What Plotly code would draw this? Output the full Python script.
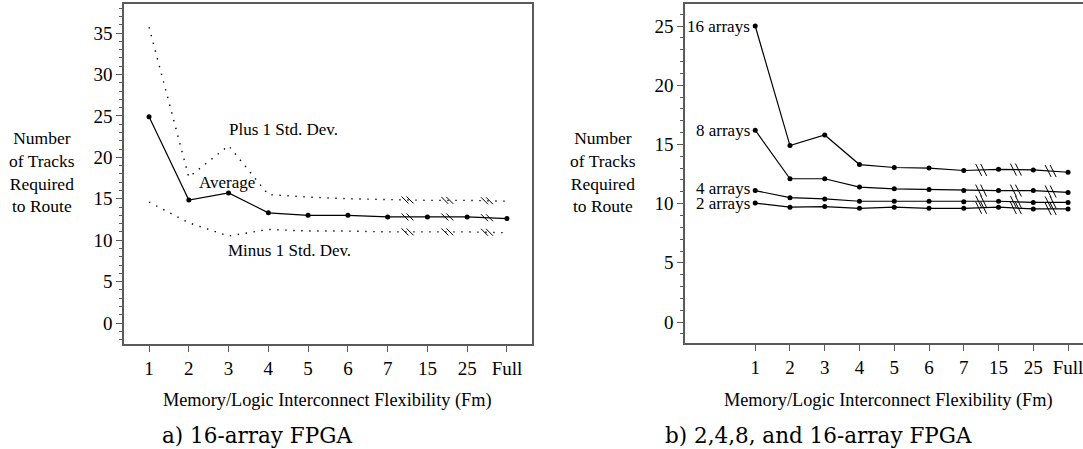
import plotly.graph_objects as go

# ---------------- data ----------------
x_labels = ["1", "2", "3", "4", "5", "6", "7", "15", "25", "Full"]
x_pos = list(range(1, len(x_labels) + 1))

# panel a) 16-array FPGA
avg_16 = [24.9, 14.85, 15.7, 13.3, 13.0, 13.0, 12.8, 12.8, 12.8, 12.6]
plus_sd = [35.7, 17.6, 21.4, 15.5, 15.2, 15.0, 14.9, 14.8, 14.8, 14.7]
minus_sd = [14.6, 12.1, 10.5, 11.3, 11.1, 11.1, 11.0, 11.0, 11.0, 10.9]

# panel b) 2,4,8,16-array FPGA
arr16 = [25.0, 14.9, 15.8, 13.3, 13.05, 13.0, 12.8, 12.9, 12.85, 12.65]
arr8 = [16.2, 12.1, 12.1, 11.4, 11.25, 11.2, 11.1, 11.1, 11.1, 10.95]
arr4 = [11.1, 10.5, 10.4, 10.2, 10.2, 10.2, 10.15, 10.2, 10.1, 10.1]
arr2 = [10.05, 9.7, 9.75, 9.6, 9.7, 9.6, 9.6, 9.7, 9.55, 9.55]
series_b = [("16 arrays", arr16), ("8 arrays", arr8), ("4 arrays", arr4), ("2 arrays", arr2)]

W, H = 1083, 449
SERIF = "Liberation Serif"
CAP = "DejaVu Serif"


def px(v):
    return v / W


def py(v):
    return 1 - v / H


fig = go.Figure()

# ----- panel a traces -----
fig.add_trace(go.Scatter(x=x_pos, y=plus_sd, mode="lines", xaxis="x", yaxis="y",
                         line=dict(color="black", width=1.4, dash="1.4px,6.6px"), showlegend=False))
fig.add_trace(go.Scatter(x=x_pos, y=minus_sd, mode="lines", xaxis="x", yaxis="y",
                         line=dict(color="black", width=1.4, dash="1.4px,6.6px"), showlegend=False))
fig.add_trace(go.Scatter(x=x_pos, y=avg_16, mode="lines+markers", xaxis="x", yaxis="y",
                         line=dict(color="black", width=1.2),
                         marker=dict(color="black", size=5), showlegend=False))

# ----- panel b traces -----
for name, ys in series_b:
    fig.add_trace(go.Scatter(x=x_pos, y=ys, mode="lines+markers", xaxis="x2", yaxis="y2",
                             line=dict(color="black", width=1.2),
                             marker=dict(color="black", size=5), showlegend=False))

shapes = []


def add_breaks(ys, xr, yr, w, h, gap):
    for i in (6, 7, 8):
        xm = (x_pos[i] + x_pos[i + 1]) / 2
        ym = (ys[i] + ys[i + 1]) / 2
        for off in (-gap / 2, gap / 2):
            shapes.append(dict(type="line", xref=xr, yref=yr,
                               xsizemode="pixel", ysizemode="pixel",
                               xanchor=xm, yanchor=ym,
                               x0=off - w / 2, y0=h / 2, x1=off + w / 2, y1=-h / 2,
                               line=dict(color="black", width=1)))


for ys in (plus_sd, avg_16, minus_sd):
    add_breaks(ys, "x", "y", 7, 7, 5)
for _, ys in series_b:
    add_breaks(ys, "x2", "y2", 6, 12, 5)

axis_common = dict(showline=True, linecolor="#5a5a5a", linewidth=1.6, ticks="outside",
                   tickcolor="#5a5a5a", tickwidth=1.2, showgrid=False, zeroline=False,
                   ticklabeloverflow="allow",
                   tickfont=dict(family=SERIF, size=19, color="black"))

fig.update_layout(
    width=W, height=H, margin=dict(l=0, r=0, t=0, b=0),
    paper_bgcolor="white", plot_bgcolor="white",
    xaxis=dict(domain=[px(124), px(532)], range=[0.37, 10.63], anchor="y", mirror=True,
               tickvals=x_pos, ticktext=x_labels, ticklen=6, **axis_common),
    yaxis=dict(domain=[py(344), py(4)], range=[-2.53, 38.5], anchor="x", mirror=True,
               tickvals=[0, 5, 10, 15, 20, 25, 30, 35], ticklen=6,
               minor=dict(dtick=1, ticklen=3, ticks="outside", tickcolor="#5a5a5a"),
               **axis_common),
    xaxis2=dict(domain=[px(685), 1.0], range=[-1.02, 10.43], anchor="y2", mirror=True,
                tickvals=x_pos, ticktext=x_labels, ticklen=6, **axis_common),
    yaxis2=dict(domain=[py(343), py(4)], range=[-1.77, 26.86], anchor="x2", mirror=False,
                tickvals=[0, 5, 10, 15, 20, 25], ticklen=6,
                minor=dict(dtick=1, ticklen=3, ticks="outside", tickcolor="#5a5a5a"),
                **axis_common),
    shapes=shapes,
)

ann = []
ytitle = "Number<br>of Tracks<br>Required<br>to Route"
for cx in (42, 603):
    ann.append(dict(text=ytitle, xref="paper", yref="paper", x=px(cx), y=py(172),
                    xanchor="center", yanchor="middle", showarrow=False, align="center",
                    font=dict(family=SERIF, size=17.5, color="black")))
for cx in (327, 888):
    ann.append(dict(text="Memory/Logic Interconnect Flexibility (Fm)", xref="paper", yref="paper",
                    x=px(cx), y=py(400), xanchor="center", yanchor="middle", showarrow=False,
                    font=dict(family=SERIF, size=18.3, color="black")))
ann.append(dict(text="a) 16-array FPGA", xref="paper", yref="paper", x=px(257), y=py(435),
                xanchor="center", yanchor="middle", showarrow=False,
                font=dict(family=CAP, size=21.5, color="black")))
ann.append(dict(text="b) 2,4,8, and 16-array FPGA", xref="paper", yref="paper", x=px(818), y=py(435),
                xanchor="center", yanchor="middle", showarrow=False,
                font=dict(family=CAP, size=21.5, color="black")))

# panel a labels
for txt, xx, yy in (("Plus 1 Std. Dev.", 4.37, 23.3), ("Average", 2.96, 17.0),
                    ("Minus 1 Std. Dev.", 4.54, 8.8)):
    ann.append(dict(text=txt, xref="x", yref="y", x=xx, y=yy, xanchor="center", yanchor="middle",
                    showarrow=False,
                    font=dict(family=SERIF, size=17, color="black")))

# panel b series labels
label_y = {"16 arrays": arr16[0], "8 arrays": arr8[0], "4 arrays": arr4[0] + 0.15, "2 arrays": arr2[0] - 0.05}
for name, _ in series_b:
    ann.append(dict(text=name, xref="x2", yref="y2", x=x_pos[0], y=label_y[name],
                    xanchor="right", yanchor="middle", xshift=-3, showarrow=False,
                    font=dict(family=SERIF, size=17, color="black")))

fig.update_layout(annotations=ann)
fig.write_html("out.html", config={"displayModeBar": False},
               post_script="document.body.style.margin='0';document.body.style.overflow='hidden';")
